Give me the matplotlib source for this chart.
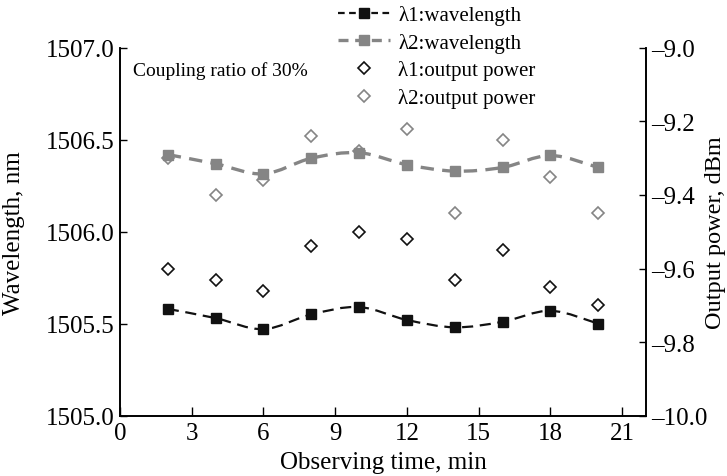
import numpy as np
import matplotlib
matplotlib.use("Agg")
import matplotlib.pyplot as plt
from matplotlib.path import Path
from matplotlib.patches import PathPatch
from matplotlib.lines import Line2D

# observing time, min
time_min = [2, 4, 6, 8, 10, 12, 14, 16, 18, 20]

# wavelengths, nm
wl_l1 = [1505.58, 1505.53, 1505.47, 1505.55, 1505.59, 1505.52, 1505.48, 1505.51, 1505.57, 1505.50]
wl_l2 = [1506.42, 1506.37, 1506.315, 1506.40, 1506.43, 1506.365, 1506.33, 1506.35, 1506.415, 1506.35]

# output power, dBm
pw_l1 = [-9.60, -9.63, -9.66, -9.54, -9.50, -9.52, -9.63, -9.55, -9.65, -9.70]
pw_l2 = [-9.30, -9.40, -9.36, -9.24, -9.28, -9.22, -9.45, -9.25, -9.35, -9.45]

left_ticks = [1505.0, 1505.5, 1506.0, 1506.5, 1507.0]
right_ticks = [-10.0, -9.8, -9.6, -9.4, -9.2, -9.0]
x_ticks = [0, 3, 6, 9, 12, 15, 18, 21]

BLACK = "#111111"
GRAY = "#858585"

plt.rcParams["font.family"] = ["Liberation Serif", "DejaVu Serif"]


def smooth_path(xs, ys):
    # Catmull-Rom through the points, written as cubic Bezier segments
    p = np.column_stack([xs, ys]).astype(float)
    ext = np.vstack([p[0], p, p[-1]])
    verts = [p[0]]
    codes = [Path.MOVETO]
    for i in range(len(p) - 1):
        p0, p1, p2, p3 = ext[i], ext[i + 1], ext[i + 2], ext[i + 3]
        verts += [p1 + (p2 - p0) / 6.0, p2 - (p3 - p1) / 6.0, p2]
        codes += [Path.CURVE4] * 3
    return Path(verts, codes)


fig = plt.figure(figsize=(7.27, 4.77), dpi=100)
W, H = 727, 477
ax = fig.add_axes([120 / W, (H - 416.5) / H, 526 / W, 367.5 / H])
ax2 = ax.twinx()

ax.add_patch(PathPatch(smooth_path(time_min, wl_l1), fill=False, edgecolor=BLACK,
                       lw=1.6, linestyle=(0, (5, 3))))
ax.add_patch(PathPatch(smooth_path(time_min, wl_l2), fill=False, edgecolor=GRAY,
                       lw=2.4, linestyle=(0, (4, 2.5))))
ax.plot(time_min, wl_l1, "s", color=BLACK, ms=7.5, ls="none")
ax.plot(time_min, wl_l2, "s", color=GRAY, ms=7.5, ls="none")

ax2.plot(time_min, pw_l1, "D", mfc="none", mec=BLACK, ms=6.5, mew=1.2, ls="none")
ax2.plot(time_min, pw_l2, "D", mfc="none", mec=GRAY, ms=6.5, mew=1.2, ls="none")

ax.set_xlim(0, 22)
ax.set_ylim(1505.0, 1507.0)
ax2.set_ylim(-10.0, -9.0)
ax.set_xticks(x_ticks)
ax.set_yticks(left_ticks)
ax.set_yticklabels([f"{v:.1f}" for v in left_ticks])
ax2.set_yticks(right_ticks)
ax2.set_yticklabels([f"{v:.1f}".replace("-", "\u2013") for v in right_ticks])

ax.tick_params(axis="x", direction="in", length=6.5, width=1, labelsize=18, pad=4.5)
ax.tick_params(axis="y", direction="in", length=5, width=1, labelsize=18, pad=4)
ax2.tick_params(axis="y", direction="in", length=5, width=1, labelsize=18, pad=4)
for a in (ax, ax2):
    for s in a.spines.values():
        s.set_linewidth(1.2)
ax.spines["top"].set_visible(False)
ax2.spines["top"].set_visible(False)

ax.set_xlabel("Observing time, min", fontsize=18, labelpad=5)
ax.set_ylabel("Wavelength, nm", fontsize=18)
ax2.set_ylabel("Output power, dBm", fontsize=17.5, rotation=90, va="center")
ax.yaxis.set_label_coords((25 - 120) / 526, 0.5)
ax2.yaxis.set_label_coords((715 - 120) / 526, 0.5)

ax.text(133 / W, (H - 71.5) / H, "Coupling ratio of 30%", transform=fig.transFigure,
        fontsize=14, va="center", ha="left")

handles = [
    Line2D([], [], color=BLACK, lw=1.6, ls=(0, (3, 2)), marker="s", ms=7.5),
    Line2D([], [], color=GRAY, lw=2.4, ls=(0, (3, 2)), marker="s", ms=7.5),
    Line2D([], [], ls="none", marker="D", mfc="none", mec=BLACK, ms=6.5, mew=1.2),
    Line2D([], [], ls="none", marker="D", mfc="none", mec=GRAY, ms=6.5, mew=1.2),
]
labels = ["\u03bb1:wavelength", "\u03bb2:wavelength",
          "\u03bb1:output power", "\u03bb2:output power"]
ax2.legend(handles, labels, loc="upper left", bbox_to_anchor=(338 / W, (H - 6) / H),
           bbox_transform=fig.transFigure, frameon=False, fontsize=15,
           numpoints=1, handlelength=2.5, handletextpad=0.4, labelspacing=0.37,
           borderpad=0, borderaxespad=0)

fig.savefig("out.png", dpi=100)
